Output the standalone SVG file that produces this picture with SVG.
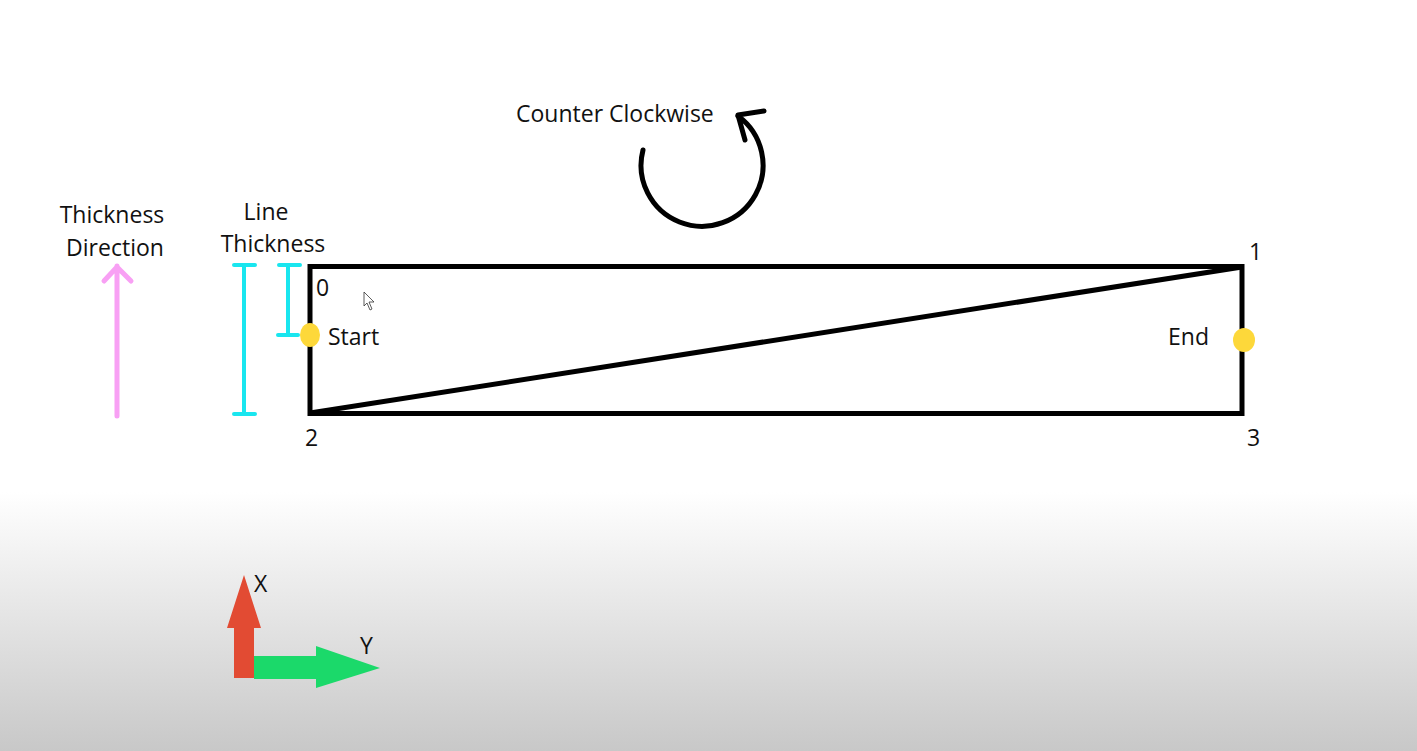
<svg xmlns="http://www.w3.org/2000/svg" width="1417" height="751" viewBox="0 0 1417 751">
<defs>
<linearGradient id="bg" x1="0" y1="0" x2="0" y2="1">
<stop offset="0" stop-color="#ffffff"/>
<stop offset="0.655" stop-color="#ffffff"/>
<stop offset="1" stop-color="#c8c8c8"/>
</linearGradient>
<style>
text{font-family:"Open Sans","Noto Sans","DejaVu Sans",sans-serif;font-size:23px;fill:#111}
.blk{fill:none;stroke:#000;stroke-width:5}
.cy{fill:none;stroke:#19e6ef;stroke-width:4;stroke-linecap:round}
.dot{fill:#fdd83a}
</style>
</defs>
<rect width="1417" height="751" fill="url(#bg)"/>

<g id="rotation">
<text x="516" y="122">Counter Clockwise</text>
<path class="blk" d="M643,150 A61,61 0 1 0 738,116" stroke-linecap="round"/>
<path class="blk" d="M764,111 L738,115 L745,140" stroke-linecap="round" stroke-linejoin="round"/>
</g>

<g id="thickness-direction">
<text x="112" y="223" text-anchor="middle">Thickness</text>
<text x="115" y="256" text-anchor="middle">Direction</text>
<path d="M117,416 L117,266 M104,281 L117,267 L131,281" fill="none" stroke="#f8a0f4" stroke-width="5" stroke-linecap="round" stroke-linejoin="round"/>
</g>

<g id="line-thickness">
<text x="266" y="220" text-anchor="middle" font-size="22">Line</text>
<text x="273" y="252" text-anchor="middle" font-size="22.5">Thickness</text>
<path class="cy" d="M244,265 L244,414 M234,265 L255,265 M234,414 L255,414"/>
<path class="cy" d="M288,265 L288,335 M279,265 L300,265 M278,335 L298,335"/>
</g>

<g id="connectors">
<rect class="blk" x="310" y="266.5" width="932" height="147"/>
<line class="blk" x1="310" y1="413" x2="1242" y2="267"/>
</g>

<g id="start">
<ellipse class="dot" cx="310" cy="335" rx="10" ry="12"/>
<text x="328" y="345">Start</text>
</g>
<g id="end">
<ellipse class="dot" cx="1244" cy="340" rx="11" ry="12"/>
<text x="1168" y="345">End</text>
</g>

<g id="corners">
<text x="316" y="296">0</text>
<text x="1249" y="260">1</text>
<text x="305" y="446">2</text>
<text x="1247" y="446">3</text>
</g>

<g id="cursor">
<path d="M364,292 L364,306 L367,303 L370,310 L372,309 L369,302 L374,302 Z" fill="#fff" stroke="#333" stroke-width="0.8"/>
</g>

<g id="axes">
<polygon points="234,678 254,678 254,628 261,628 244,575 227,628 234,628" fill="#e24b33"/>
<polygon points="254,656 316,656 316,646 380,668 316,688 316,679 254,679" fill="#1bd96a"/>
<text x="254" y="592" font-size="20">X</text>
<text x="360" y="654" font-size="20">Y</text>
</g>
</svg>
